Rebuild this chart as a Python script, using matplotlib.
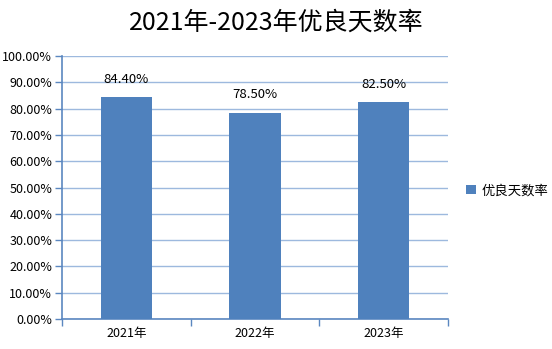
import matplotlib
matplotlib.use("Agg")
import matplotlib.pyplot as plt
from matplotlib.ticker import PercentFormatter
import numpy as np

plt.rcParams['font.family'] = ['Noto Sans CJK SC', 'DejaVu Sans']

# === Data ===
years = ["2021年", "2022年", "2023年"]
rates = [84.40, 78.50, 82.50]
series_name = "优良天数率"
title = "2021年-2023年优良天数率"

# === Styles ===
BAR_COLOR = "#4F81BD"
GRID_COLOR = "#9DB9DE"
AXIS_COLOR = "#5B87C0"

fig = plt.figure(figsize=(5.52, 3.49), dpi=100)
ax = fig.add_axes([0.1123, 0.086, 0.6993, 0.7535])

x = np.arange(len(years))
bars = ax.bar(x, rates, width=0.4, color=BAR_COLOR, label=series_name, zorder=3)

ax.set_xlim(-0.5, len(years) - 0.5)
ax.set_ylim(0, 100)
ax.set_yticks(np.arange(0, 101, 10))
ax.yaxis.set_major_formatter(PercentFormatter(decimals=2))
ax.grid(axis='y', color=GRID_COLOR, lw=1, zorder=0)

# category labels centred, ticks at category boundaries
ax.set_xticks(x)
ax.set_xticklabels(years, fontsize=9)
ax.tick_params(axis='x', length=0, pad=6)
ax.set_xticks(np.arange(-0.5, len(years)), minor=True)
ax.tick_params(axis='x', which='minor', length=5, color=AXIS_COLOR, width=1)
ax.tick_params(axis='y', length=5, color=AXIS_COLOR, width=1, labelsize=9, pad=2)

for side in ['top', 'right']:
    ax.spines[side].set_visible(False)
for side in ['left', 'bottom']:
    ax.spines[side].set_color(AXIS_COLOR)
    ax.spines[side].set_linewidth(1.2)

for b, v in zip(bars, rates):
    ax.annotate(f"{v:.2f}%", (b.get_x() + b.get_width() / 2, v),
                xytext=(0, 8), textcoords='offset points',
                ha='center', va='bottom', fontsize=9.5)

fig.text(0.5, 0.935, title, ha='center', va='center', fontsize=18)

fig.legend(loc='center left', bbox_to_anchor=(0.845, 0.455), frameon=False,
           fontsize=9.6, handlelength=0.7, handleheight=0.7, handletextpad=0.4,
           borderaxespad=0, borderpad=0)

fig.savefig("out.png", dpi=100)
